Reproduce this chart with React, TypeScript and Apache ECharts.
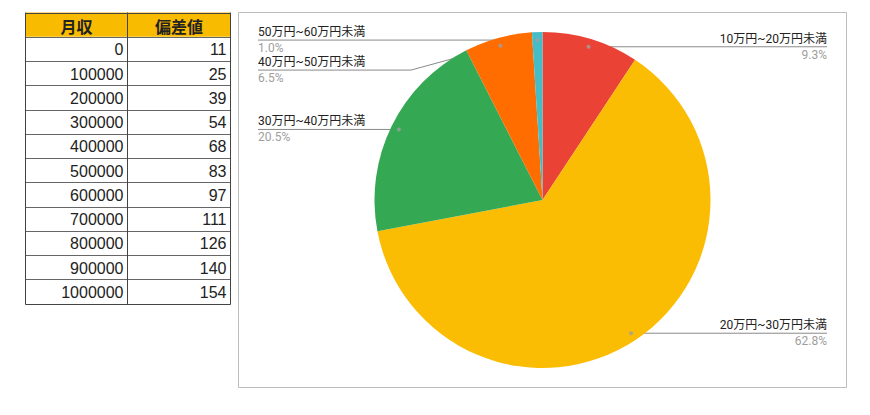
import React, { useEffect, useRef } from "react";
import * as echarts from "echarts";

// ---- data ----
const tableHeaders = ["月収", "偏差値"];
const incomeValues = [0, 100000, 200000, 300000, 400000, 500000, 600000, 700000, 800000, 900000, 1000000];
const deviationValues = [11, 25, 39, 54, 68, 83, 97, 111, 126, 140, 154];

const sliceNames = [
  "10万円~20万円未満",
  "20万円~30万円未満",
  "30万円~40万円未満",
  "40万円~50万円未満",
  "50万円~60万円未満",
];
const slicePercents = [9.3, 62.8, 20.5, 6.5, 1.0];
const sliceColors = ["#ea4335", "#fbbc04", "#34a853", "#ff6d01", "#46bdc6"];

// ---- layout constants ----
const W = 870;
const H = 415;
const TBL_X = [25.5, 127.5, 230.5];
const TBL_TOP = 12.5;
const ROW_H = 24.25;
const BOX = { x: 238, y: 12, w: 609, h: 376 };
const PIE_R = 168;
const DOT_R = 160;

function buildTable(): any[] {
  const els: any[] = [];
  const nRows = incomeValues.length + 1;
  const bottom = TBL_TOP + ROW_H * nRows;
  els.push({
    type: "rect",
    shape: { x: TBL_X[0], y: TBL_TOP, width: TBL_X[2] - TBL_X[0], height: ROW_H },
    style: { fill: "#f8bb00" },
  });
  for (let i = 0; i <= nRows; i++) {
    const y = Math.round(TBL_TOP + ROW_H * i) + 0.5;
    els.push({
      type: "line",
      shape: { x1: TBL_X[0], y1: y, x2: TBL_X[2], y2: y },
      style: { stroke: i === 0 || i === nRows ? "#444" : "#666", lineWidth: 1 },
    });
  }
  TBL_X.forEach((x) => {
    els.push({
      type: "line",
      shape: { x1: x, y1: TBL_TOP, x2: x, y2: Math.round(bottom) + 0.5 },
      style: { stroke: "#444", lineWidth: 1 },
    });
  });
  tableHeaders.forEach((h, c) => {
    els.push({
      type: "text",
      x: (TBL_X[c] + TBL_X[c + 1]) / 2,
      y: TBL_TOP + ROW_H / 2 + 1,
      style: {
        text: h,
        fill: "#222",
        font: 'bold 16px "Noto Sans CJK JP", sans-serif',
        align: "center",
        verticalAlign: "middle",
        textAlign: "center",
        textVerticalAlign: "middle",
      },
    });
  });
  incomeValues.forEach((v, r) => {
    const y = TBL_TOP + ROW_H * (r + 1) + ROW_H / 2 + 1;
    [String(v), String(deviationValues[r])].forEach((t, c) => {
      els.push({
        type: "text",
        x: TBL_X[c + 1] - 4,
        y,
        style: {
          text: t,
          fill: "#222",
          font: '16px "Liberation Sans", Arial, sans-serif',
          align: "right",
          verticalAlign: "middle",
          textAlign: "right",
          textVerticalAlign: "middle",
        },
      });
    });
  });
  return els;
}

export default function App() {
  const ref = useRef<HTMLDivElement>(null);

  useEffect(() => {
    if (!ref.current) return;
    const chart = echarts.init(ref.current, null, { renderer: "svg" });

    const total = slicePercents.reduce((a, b) => a + b, 0);
    let cum = 0;
    const mids = slicePercents.map((v) => {
      const m = ((cum + v / 2) / total) * 100;
      cum += v;
      return m;
    });

    const pieData = sliceNames.map((n, i) => ({
      name: n,
      value: slicePercents[i],
      itemStyle: { color: sliceColors[i] },
    }));

    const cx = BOX.x + BOX.w / 2;
    const cy = BOX.y + BOX.h / 2;

    chart.setOption({
      animation: false,
      backgroundColor: "#fff",
      graphic: {
        elements: [
          ...buildTable(),
          {
            type: "rect",
            z: -10,
            shape: { x: BOX.x + 0.5, y: BOX.y + 0.5, width: BOX.w - 1, height: BOX.h - 1 },
            style: { fill: "none", stroke: "#bdbdbd", lineWidth: 1 },
          },
        ],
      },
      polar: { center: [cx, cy], radius: PIE_R },
      angleAxis: { type: "value", min: 0, max: 100, startAngle: 90, clockwise: true, show: false },
      radiusAxis: { type: "value", min: 0, max: PIE_R, show: false },
      series: [
        {
          type: "pie",
          left: BOX.x,
          top: BOX.y,
          width: BOX.w,
          height: BOX.h,
          center: ["50%", "50%"],
          radius: PIE_R,
          startAngle: 90,
          clockwise: true,
          silent: true,
          label: { show: false },
          labelLine: { show: false },
          itemStyle: { borderWidth: 0 },
          data: pieData,
        },
        {
          type: "pie",
          left: BOX.x,
          top: BOX.y,
          width: BOX.w,
          height: BOX.h,
          center: ["50%", "50%"],
          radius: DOT_R,
          startAngle: 90,
          clockwise: true,
          silent: true,
          itemStyle: { color: "rgba(0,0,0,0)", borderWidth: 0 },
          avoidLabelOverlap: true,
          label: {
            show: true,
            position: "outside",
            alignTo: "edge",
            edgeDistance: 20,
            distanceToLabelLine: 5,
            formatter: (p: any) => `{n|${p.name}}\n{p|${Number(p.value).toFixed(1)}%}`,
            rich: {
              n: {
                fontSize: 12,
                color: "#222",
                lineHeight: 16,
                fontFamily: 'Roboto, "Noto Sans CJK JP", sans-serif',
              },
              p: {
                fontSize: 12,
                color: "#9e9e9e",
                lineHeight: 16,
                fontFamily: 'Roboto, "Noto Sans CJK JP", sans-serif',
              },
            },
          },
          labelLine: {
            show: true,
            length: 0,
            length2: 0,
            lineStyle: { color: "#8a8a8a", width: 1 },
          },
          labelLayout: (params: any) => {
            const pts = params.labelLinePoints;
            if (!pts) return {};
            const r = params.labelRect;
            const isLeft = r.x + r.width / 2 < pts[0][0];
            const p = pts.map((q: number[]) => [q[0], q[1]]);
            p[2][0] = isLeft ? r.x : r.x + r.width;
            return { labelLinePoints: p };
          },
          data: pieData.map((d) => ({ name: d.name, value: d.value })),
        },
        {
          type: "scatter",
          coordinateSystem: "polar",
          silent: true,
          symbol: "circle",
          symbolSize: 4,
          itemStyle: { color: "#a0a0a0" },
          z: 10,
          data: mids.map((m) => [DOT_R, m]),
        },
      ],
    });

    return () => chart.dispose();
  }, []);

  return (
    <div
      ref={ref}
      style={{ position: "absolute", left: 0, top: 0, width: W, height: H, background: "#fff" }}
    />
  );
}
